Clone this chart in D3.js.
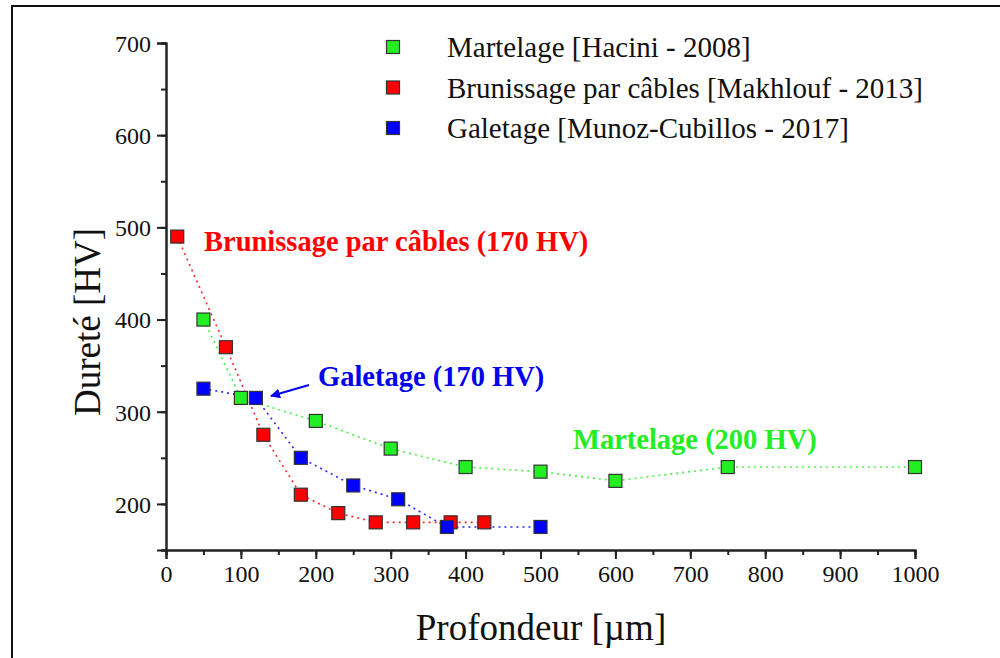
<!DOCTYPE html>
<html>
<head>
<meta charset="utf-8">
<script src="https://cdn.jsdelivr.net/npm/d3@7"></script>
<style>
  body { margin: 0; background: #fff; }
  text { font-family: "Liberation Serif", "Times New Roman", serif; }
</style>
</head>
<body>
<svg id="chart" width="1000" height="658"></svg>
<script>
// values
var martelageX = [50, 100, 200, 300, 400, 500, 600, 750, 1000];
var martelageY = [400, 315, 290, 260, 240, 235, 225, 240, 240];
var brunissageX = [15, 80, 130, 180, 230, 280, 330, 380, 425];
var brunissageY = [490, 370, 275, 210, 190, 180, 180, 180, 180];
var galetageX = [50, 120, 180, 250, 310, 375, 500];
var galetageY = [325, 315, 250, 220, 205, 175, 175];

var xTicks = [0, 100, 200, 300, 400, 500, 600, 700, 800, 900, 1000];
var yTicks = [200, 300, 400, 500, 600, 700];

var seriesNames = ["Martelage [Hacini - 2008]", "Brunissage par câbles [Makhlouf - 2013]", "Galetage [Munoz-Cubillos - 2017]"];
var seriesColors = ["#22ee22", "#ff0000", "#0000ff"];

function main() {
  var svg = d3.select("#chart");

  // outer frame (runs off the right and bottom edges)
  svg.append("rect")
    .attr("x", 12).attr("y", 6)
    .attr("width", 1000).attr("height", 700)
    .attr("fill", "none").attr("stroke", "#111").attr("stroke-width", 2);

  var x = d3.scaleLinear().domain([0, 1000]).range([166, 915]);
  var y = d3.scaleLinear().domain([150, 700]).range([550, 43]);

  // minor ticks first, then major
  var xAxis = d3.axisBottom(x).tickValues(d3.range(0, 1001, 50)).tickSize(5).tickFormat("");
  svg.append("g").attr("transform", "translate(0,550)").call(xAxis);
  svg.append("g").attr("class", "xaxis").attr("transform", "translate(0,550)")
    .call(d3.axisBottom(x).tickValues(xTicks).tickSize(9).tickPadding(6).tickFormat(d3.format("d")));

  var yAxis = d3.axisLeft(y).tickValues(d3.range(150, 701, 50)).tickSize(5).tickFormat("");
  svg.append("g").attr("transform", "translate(166,0)").call(yAxis);
  svg.append("g").attr("class", "yaxis").attr("transform", "translate(166,0)")
    .call(d3.axisLeft(y).tickValues(yTicks).tickSize(9).tickPadding(6).tickFormat(d3.format("d")));

  svg.selectAll(".xaxis, .yaxis")
    .attr("font-family", "Liberation Serif")
    .attr("font-size", 24);
  svg.selectAll(".domain, .tick line").attr("stroke", "#222").attr("stroke-width", 2);
  svg.selectAll(".tick text").attr("fill", "#111");
  svg.selectAll(".yaxis .tick text").attr("dy", "0.35em");

  // axis titles
  svg.append("text")
    .attr("transform", "translate(100,322) rotate(-90)")
    .attr("text-anchor", "middle")
    .style("font-size", "37px").attr("fill", "#111")
    .text("Dureté [HV]");
  svg.append("text")
    .attr("x", 541).attr("y", 640)
    .attr("text-anchor", "middle")
    .style("font-size", "37px").attr("fill", "#111")
    .text("Profondeur [µm]");

  var series = [
    { xs: martelageX, ys: martelageY },
    { xs: brunissageX, ys: brunissageY },
    { xs: galetageX, ys: galetageY }
  ];

  var line = d3.line().x(d => x(d[0])).y(d => y(d[1]));

  series.forEach(function(s, i) {
    var pts = s.xs.map((v, j) => [v, s.ys[j]]);
    svg.append("path")
      .datum(pts)
      .attr("d", line)
      .attr("fill", "none")
      .attr("stroke", seriesColors[i])
      .attr("stroke-width", 1.6)
      .attr("stroke-dasharray", "2,4")
      .attr("opacity", 0.85);
  });

  var ms = 13;
  series.forEach(function(s, i) {
    var pts = s.xs.map((v, j) => [v, s.ys[j]]);
    svg.append("g").selectAll("rect")
      .data(pts)
      .enter().append("rect")
      .attr("x", d => x(d[0]) - ms / 2)
      .attr("y", d => y(d[1]) - ms / 2)
      .attr("width", ms).attr("height", ms)
      .attr("fill", seriesColors[i])
      .attr("stroke", "#333").attr("stroke-width", 1.2);
  });

  // legend
  var legend = svg.append("g").attr("transform", "translate(393,47)");
  seriesNames.forEach(function(name, i) {
    legend.append("rect")
      .attr("x", -ms / 2).attr("y", i * 40.5 - ms / 2)
      .attr("width", ms).attr("height", ms)
      .attr("fill", seriesColors[i]).attr("stroke", "#333").attr("stroke-width", 1.2);
    legend.append("text")
      .attr("x", 54).attr("y", i * 40.5)
      .attr("dy", "0.35em")
      .style("font-size", "29px").attr("fill", "#111")
      .text(name);
  });

  // annotations
  svg.append("text")
    .attr("x", 204).attr("y", 251)
    .style("font-size", "28.5px").style("font-weight", "bold")
    .attr("fill", "#ff0000")
    .text("Brunissage par câbles (170 HV)");
  svg.append("text")
    .attr("x", 318).attr("y", 386)
    .style("font-size", "28.5px").style("font-weight", "bold")
    .attr("fill", "#0000ee")
    .text("Galetage (170 HV)");
  svg.append("text")
    .attr("x", 573).attr("y", 449)
    .style("font-size", "28.5px").style("font-weight", "bold")
    .attr("fill", "#22ee22")
    .text("Martelage (200 HV)");

  // arrow pointing at Galetage point
  svg.append("defs").append("marker")
    .attr("id", "arrowhead")
    .attr("viewBox", "0 0 10 10")
    .attr("refX", 9).attr("refY", 5)
    .attr("markerWidth", 5).attr("markerHeight", 5)
    .attr("orient", "auto")
    .append("path").attr("d", "M0,0 L10,5 L0,10 z").attr("fill", "#0000ee");
  svg.append("line")
    .attr("x1", 309).attr("y1", 385)
    .attr("x2", 271).attr("y2", 396)
    .attr("stroke", "#0000ee").attr("stroke-width", 2)
    .attr("marker-end", "url(#arrowhead)");
}

main();
</script>
</body>
</html>
